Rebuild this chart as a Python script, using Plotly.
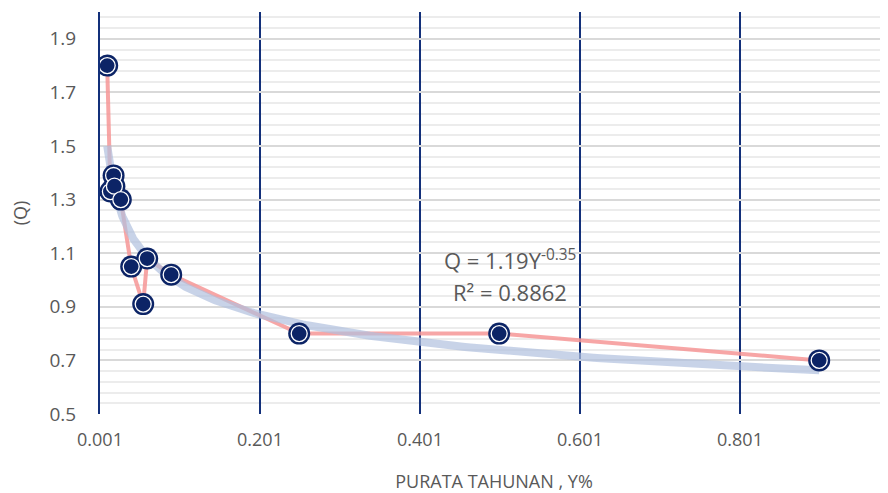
import numpy as np
import plotly.graph_objects as go

# Data
y_pct = [0.01, 0.014, 0.018, 0.019, 0.027, 0.04, 0.055, 0.06, 0.09, 0.25, 0.5, 0.9]
q_vals = [1.8, 1.33, 1.39, 1.35, 1.3, 1.05, 0.91, 1.08, 1.02, 0.8, 0.8, 0.7]
x_tick_vals = [0.001, 0.201, 0.401, 0.601, 0.801]
x_tick_text = ["0.001", "0.201", "0.401", "0.601", "0.801"]
y_tick_vals = [0.5, 0.7, 0.9, 1.1, 1.3, 1.5, 1.7, 1.9]
y_tick_text = ["0.5", "0.7", "0.9", "1.1", "1.3", "1.5", "1.7", "1.9"]
eq_text = "Q = 1.19Y<sup>-0.35</sup>"
r2_text = "R² = 0.8862"

NAVY = "#0c2466"
GRID_NAVY = "#13307a"
TXT = "#595959"
FONT = "Open Sans"

# Power trendline fitted from the data (least squares on logs)
b, ln_a = np.polyfit(np.log(y_pct), np.log(q_vals), 1)
tx = np.geomspace(min(y_pct), max(y_pct), 300)
ty = np.exp(ln_a) * tx ** b

fig = go.Figure()
fig.add_trace(go.Scatter(x=y_pct, y=q_vals, mode="lines",
                         line=dict(color="rgba(246,150,150,0.85)", width=4),
                         hoverinfo="skip", showlegend=False))
fig.add_trace(go.Scatter(x=tx, y=ty, mode="lines",
                         line=dict(color="rgba(176,193,222,0.7)", width=8),
                         hoverinfo="skip", showlegend=False))
fig.add_trace(go.Scatter(x=y_pct, y=q_vals, mode="markers",
                         marker=dict(size=22, color=NAVY),
                         showlegend=False))
fig.add_trace(go.Scatter(x=y_pct, y=q_vals, mode="markers",
                         marker=dict(size=16, color=NAVY,
                                     line=dict(color="white", width=1.3)),
                         showlegend=False))

fig.add_annotation(x=0.5135, y=1.075, xref="x", yref="y", text=eq_text,
                   showarrow=False, font=dict(family=FONT, size=22, color=TXT))
fig.add_annotation(x=0.5135, y=0.955, xref="x", yref="y", text=r2_text,
                   showarrow=False, font=dict(family=FONT, size=22, color=TXT))

fig.update_layout(
    width=880, height=485,
    margin=dict(l=92, r=0, t=4, b=79, autoexpand=False),
    paper_bgcolor="white", plot_bgcolor="white",
    font=dict(family=FONT, color=TXT),
    xaxis=dict(range=[0.001, 0.986], tickvals=x_tick_vals, ticktext=x_tick_text,
               showgrid=True, gridcolor=GRID_NAVY, gridwidth=2,
               zeroline=False, showline=False, ticks="",
               automargin=False, ticklabelstandoff=13,
               tickfont=dict(family=FONT, size=18, color=TXT),
               title=dict(text="PURATA TAHUNAN , Y%", standoff=26,
                          font=dict(family=FONT, size=18, color=TXT))),
    yaxis=dict(range=[0.5, 2.0], tickvals=y_tick_vals, ticktext=y_tick_text,
               showgrid=True, gridcolor="#d9d9d9", gridwidth=2,
               minor=dict(tick0=0.5, dtick=0.04, showgrid=True,
                          gridcolor="#ececec", gridwidth=2),
               zeroline=False, showline=True, linecolor=GRID_NAVY, linewidth=2,
               ticks="", ticklabelstandoff=18, automargin=False,
               tickfont=dict(family=FONT, size=19, color=TXT),
               title=dict(text="(Q)", standoff=22,
                          font=dict(family=FONT, size=18, color=TXT))),
)

fig.write_html("out.html")
